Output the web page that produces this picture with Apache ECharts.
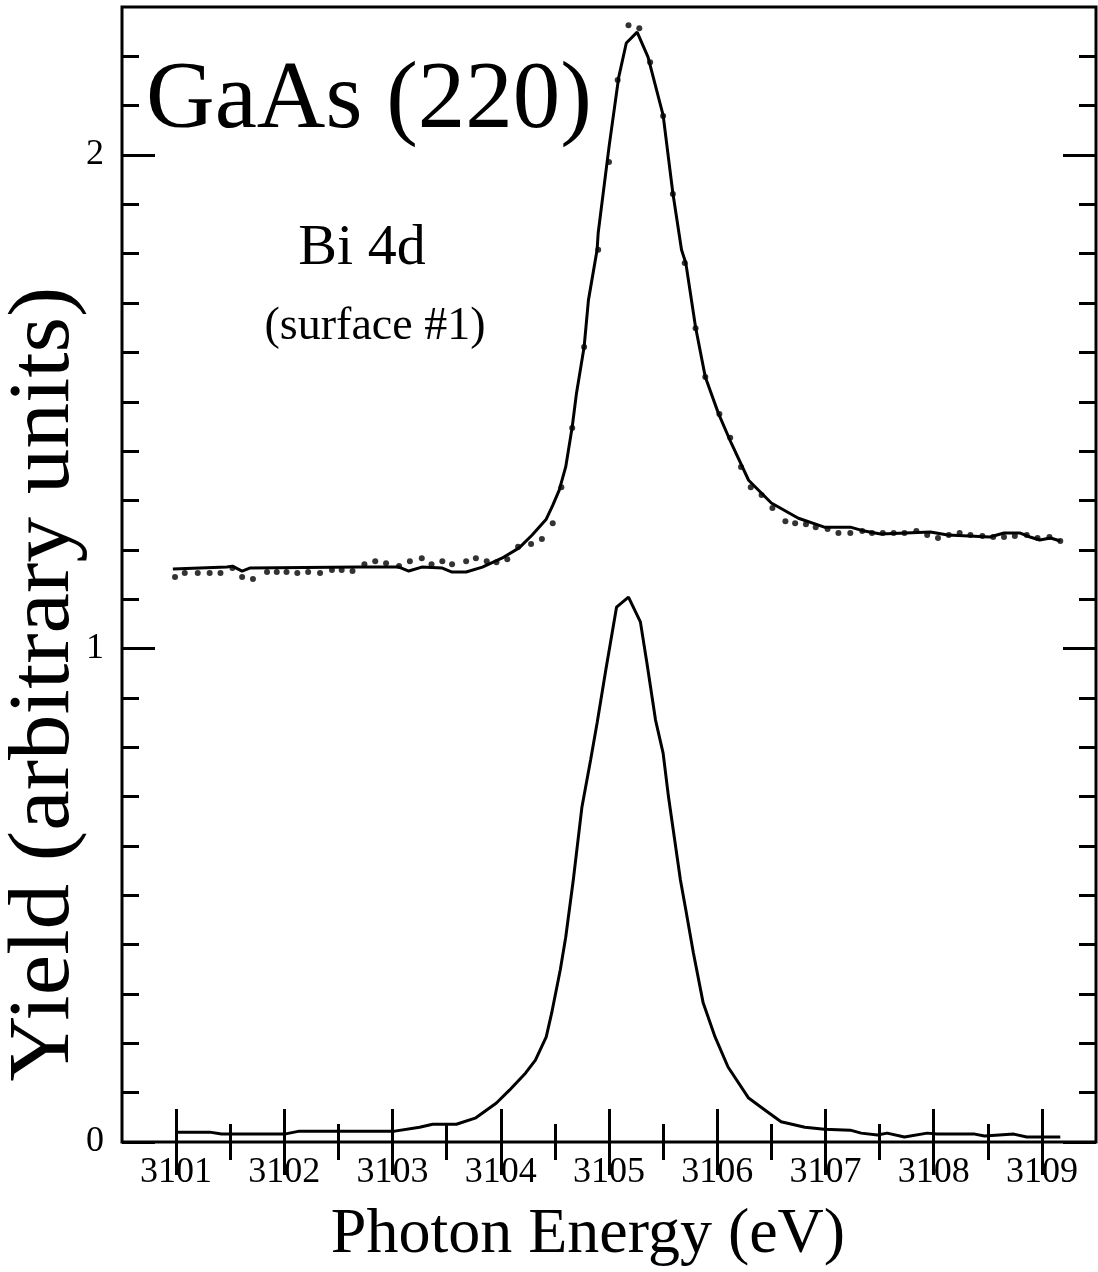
<!DOCTYPE html>
<html>
<head>
<meta charset="utf-8">
<title>GaAs (220) Bi 4d</title>
<script src="https://cdn.jsdelivr.net/npm/echarts@6/dist/echarts.min.js"></script>
<style>
  html, body { margin: 0; padding: 0; background: #fff; }
  #chart { width: 1098px; height: 1272px; }
</style>
</head>
<body>
<div id="chart"></div>
<script>
// axis ranges and tick positions
var xMin = 3100.5, xMax = 3109.5;
var yMin = 0, yMax = 2.3;
var xMajorTicks = [3101, 3102, 3103, 3104, 3105, 3106, 3107, 3108, 3109];
var xMinorTicks = [3101.5, 3102.5, 3103.5, 3104.5, 3105.5, 3106.5, 3107.5, 3108.5];
var yMajorTicks = [0, 1, 2];
var yMinorTicks = [0.1, 0.2, 0.3, 0.4, 0.5, 0.6, 0.7, 0.8, 0.9,
                   1.1, 1.2, 1.3, 1.4, 1.5, 1.6, 1.7, 1.8, 1.9,
                   2.1, 2.2];

// upper curve: measured points (dots) and fitted line
var upperDots = [
  [3100.99, 1.145], [3101.08, 1.153], [3101.20, 1.153], [3101.31, 1.153], [3101.41, 1.153],
  [3101.52, 1.163], [3101.61, 1.145], [3101.71, 1.141], [3101.84, 1.155], [3101.93, 1.155],
  [3102.02, 1.155], [3102.12, 1.153], [3102.22, 1.155], [3102.33, 1.153], [3102.44, 1.159],
  [3102.53, 1.159], [3102.63, 1.157], [3102.74, 1.171], [3102.84, 1.177], [3102.94, 1.173],
  [3103.06, 1.167], [3103.16, 1.177], [3103.27, 1.183], [3103.36, 1.171], [3103.46, 1.177],
  [3103.55, 1.171], [3103.68, 1.177], [3103.77, 1.183], [3103.87, 1.177], [3103.96, 1.175],
  [3104.06, 1.181], [3104.16, 1.206], [3104.28, 1.212], [3104.38, 1.222], [3104.48, 1.254],
  [3104.56, 1.327], [3104.66, 1.447], [3104.77, 1.611], [3104.90, 1.808], [3105.00, 1.986],
  [3105.08, 2.152], [3105.18, 2.263], [3105.28, 2.257], [3105.38, 2.188], [3105.50, 2.079],
  [3105.59, 1.921], [3105.70, 1.781], [3105.80, 1.649], [3105.89, 1.550], [3106.02, 1.475],
  [3106.12, 1.427], [3106.22, 1.368], [3106.31, 1.327], [3106.41, 1.311], [3106.51, 1.285],
  [3106.63, 1.258], [3106.72, 1.254], [3106.82, 1.252], [3106.91, 1.246], [3107.02, 1.242],
  [3107.12, 1.234], [3107.23, 1.234], [3107.34, 1.238], [3107.43, 1.234], [3107.53, 1.234],
  [3107.63, 1.234], [3107.73, 1.234], [3107.84, 1.238], [3107.94, 1.230], [3108.04, 1.224],
  [3108.14, 1.230], [3108.24, 1.234], [3108.34, 1.230], [3108.45, 1.228], [3108.55, 1.226],
  [3108.65, 1.226], [3108.75, 1.228], [3108.86, 1.230], [3108.96, 1.224], [3109.07, 1.226],
  [3109.17, 1.218]
];

var upperFit = [
  [3100.97, 1.161], [3101.47, 1.165], [3101.52, 1.167], [3101.61, 1.157], [3101.68, 1.163],
  [3102.69, 1.165], [3103.06, 1.165], [3103.15, 1.157], [3103.27, 1.165], [3103.46, 1.163],
  [3103.55, 1.155], [3103.68, 1.155], [3103.83, 1.165], [3104.01, 1.183], [3104.17, 1.204],
  [3104.29, 1.230], [3104.42, 1.262], [3104.48, 1.290], [3104.54, 1.321], [3104.60, 1.368],
  [3104.66, 1.449], [3104.70, 1.518], [3104.77, 1.611], [3104.81, 1.706], [3104.89, 1.808],
  [3104.90, 1.842], [3105.00, 2.016], [3105.09, 2.158], [3105.16, 2.227], [3105.26, 2.249],
  [3105.36, 2.199], [3105.50, 2.081], [3105.59, 1.923], [3105.67, 1.808], [3105.71, 1.781],
  [3105.80, 1.651], [3105.89, 1.550], [3106.01, 1.477], [3106.13, 1.416], [3106.29, 1.341],
  [3106.50, 1.295], [3106.75, 1.264], [3106.99, 1.246], [3107.23, 1.246], [3107.36, 1.238],
  [3107.51, 1.232], [3107.97, 1.236], [3108.13, 1.230], [3108.52, 1.226], [3108.65, 1.234],
  [3108.80, 1.234], [3108.89, 1.226], [3108.98, 1.220], [3109.08, 1.224], [3109.17, 1.218]
];

// lower curve
var lowerLine = [
  [3101.00, 0.020], [3101.31, 0.020], [3101.42, 0.016], [3102.00, 0.016], [3102.14, 0.022],
  [3103.02, 0.022], [3103.25, 0.030], [3103.37, 0.036], [3103.59, 0.036], [3103.77, 0.049],
  [3103.96, 0.079], [3104.08, 0.105], [3104.23, 0.140], [3104.32, 0.166], [3104.42, 0.213],
  [3104.47, 0.261], [3104.55, 0.349], [3104.60, 0.415], [3104.67, 0.531], [3104.75, 0.679],
  [3104.83, 0.774], [3104.89, 0.849], [3104.97, 0.956], [3105.07, 1.084], [3105.18, 1.104],
  [3105.29, 1.054], [3105.35, 0.971], [3105.43, 0.855], [3105.50, 0.788], [3105.55, 0.699],
  [3105.66, 0.531], [3105.71, 0.470], [3105.78, 0.383], [3105.87, 0.282], [3105.98, 0.213],
  [3106.10, 0.152], [3106.29, 0.089], [3106.44, 0.065], [3106.59, 0.041], [3106.81, 0.030],
  [3106.99, 0.026], [3107.23, 0.024], [3107.33, 0.018], [3107.48, 0.014], [3107.57, 0.018],
  [3107.73, 0.010], [3107.94, 0.018], [3108.03, 0.016], [3108.38, 0.016], [3108.47, 0.012],
  [3108.74, 0.016], [3108.86, 0.010], [3109.17, 0.010]
];

var serif = "'Liberation Serif', 'DejaVu Serif', serif";
var tickStyle = { color: '#000', width: 3 };

function xAxisOf(pos, ticks, len, labels) {
  return {
    type: 'value', position: pos, min: xMin, max: xMax,
    axisLine: { show: false },
    splitLine: { show: false },
    axisTick: { show: true, inside: true, length: len, customValues: ticks, lineStyle: tickStyle },
    axisLabel: labels ? {
      show: true, customValues: ticks, margin: 13,
      fontFamily: serif, fontSize: 36, color: '#000',
      formatter: function (v) { return String(v); }
    } : { show: false }
  };
}

function yAxisOf(pos, ticks, len, labels) {
  return {
    type: 'value', position: pos, min: yMin, max: yMax,
    axisLine: { show: false },
    splitLine: { show: false },
    axisTick: { show: true, inside: true, length: len, customValues: ticks, lineStyle: tickStyle },
    axisLabel: labels ? {
      show: true, customValues: ticks, margin: 18,
      fontFamily: serif, fontSize: 36, color: '#000',
      formatter: function (v) { return String(v); }
    } : { show: false }
  };
}

var chart = echarts.init(document.getElementById('chart'));
var option = {
  animation: false,
  backgroundColor: '#fff',
  grid: {
    show: true, left: 122, top: 7, right: 2, bottom: 130,
    borderColor: '#000', borderWidth: 3, backgroundColor: 'transparent'
  },
  xAxis: [
    xAxisOf('bottom', xMajorTicks, 33, true),
    xAxisOf('bottom', xMinorTicks, 18, false),
    xAxisOf('top', xMajorTicks, 33, false),
    xAxisOf('top', xMinorTicks, 18, false)
  ],
  yAxis: [
    yAxisOf('left', yMajorTicks, 33, true),
    yAxisOf('left', yMinorTicks, 17, false),
    yAxisOf('right', yMajorTicks, 33, false),
    yAxisOf('right', yMinorTicks, 17, false)
  ],
  graphic: [
    { type: 'text', x: 369, y: 102,
      style: { text: 'GaAs (220)', font: '95px ' + serif, fill: '#000', textAlign: 'center', textVerticalAlign: 'middle' } },
    { type: 'text', x: 362, y: 249,
      style: { text: 'Bi 4d', font: '58px ' + serif, fill: '#000', textAlign: 'center', textVerticalAlign: 'middle' } },
    { type: 'text', x: 375, y: 327,
      style: { text: '(surface #1)', font: '46px ' + serif, fill: '#000', textAlign: 'center', textVerticalAlign: 'middle' } },
    { type: 'text', x: 588, y: 1235,
      style: { text: 'Photon Energy (eV)', font: '64px ' + serif, fill: '#000', textAlign: 'center', textVerticalAlign: 'middle' } },
    { type: 'text', x: 45, y: 684, rotation: Math.PI / 2, scaleX: 1.06,
      style: { text: 'Yield (arbitrary units)', font: '86px ' + serif, fill: '#000', textAlign: 'center', textVerticalAlign: 'middle' } }
  ],
  series: [
    {
      name: 'fit', type: 'line', data: upperFit, symbol: 'none',
      lineStyle: { color: '#000', width: 3 }, z: 3
    },
    {
      name: 'data', type: 'scatter', data: upperDots, symbol: 'circle', symbolSize: 6,
      itemStyle: { color: '#000' }, z: 4
    },
    {
      name: 'lower', type: 'line', data: lowerLine, symbol: 'none',
      lineStyle: { color: '#000', width: 3 }, z: 3
    }
  ]
};
chart.setOption(option);
</script>
</body>
</html>
